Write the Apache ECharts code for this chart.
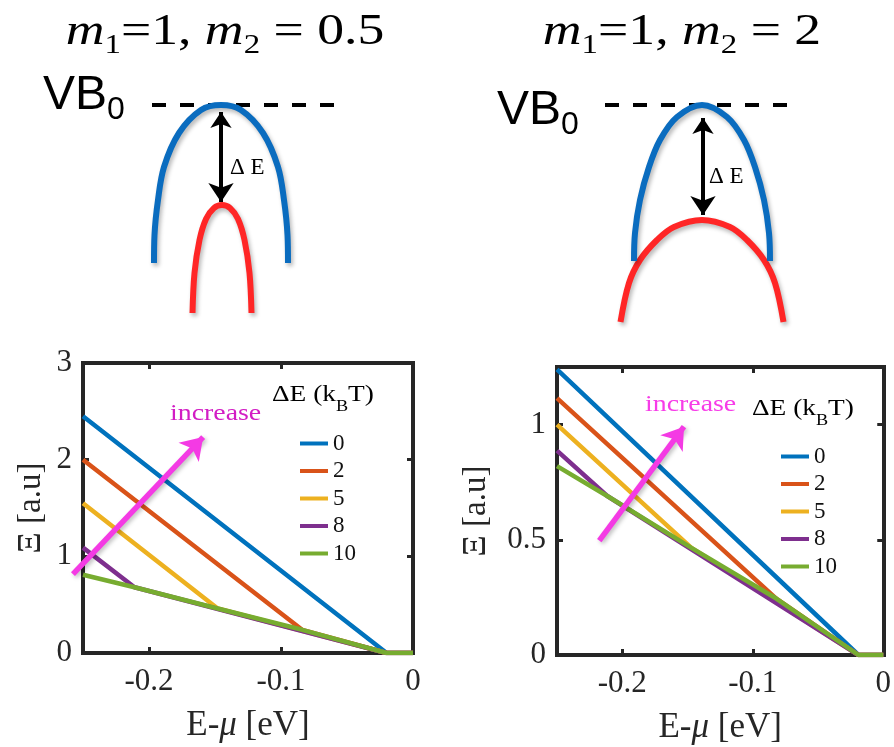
<!DOCTYPE html>
<html>
<head>
<meta charset="utf-8">
<script src="https://cdn.jsdelivr.net/npm/echarts@6/dist/echarts.min.js"></script>
<style>
  html, body { margin: 0; padding: 0; background: #fff; }
  #main { width: 894px; height: 747px; }
</style>
</head>
<body>
<div id="main"></div>
<script>
// ---------- lower panels: Ξ versus E-μ ----------
const energyTicks = [-0.2, -0.1, 0];
const xiTicksLight = [0, 1, 2, 3];
const xiTicksHeavy = [0, 0.5, 1];
const deltaE = ['0', '2', '5', '8', '10'];
const lineColors = ['#0072BD', '#D95319', '#EDB120', '#7E2F8E', '#77AC30'];

// m1 = 1, m2 = 0.5   points are [E-μ (eV), Ξ (a.u.)]
const xiLight0  = [[-0.25, 2.45], [-0.02, 0], [0, 0]];
const xiLight2  = [[-0.25, 2.00], [-0.084, 0.24], [-0.02, 0], [0, 0]];
const xiLight5  = [[-0.25, 1.55], [-0.148, 0.46], [-0.02, 0], [0, 0]];
const xiLight8  = [[-0.25, 1.09], [-0.211, 0.68], [-0.02, 0], [0, 0]];
const xiLight10 = [[-0.25, 0.81], [-0.211, 0.68], [-0.148, 0.46], [-0.084, 0.24], [-0.02, 0], [0, 0]];

// m1 = 1, m2 = 2
const xiHeavy0  = [[-0.25, 1.24], [-0.019, 0], [0, 0]];
const xiHeavy2  = [[-0.25, 1.115], [-0.082, 0.245], [-0.019, 0], [0, 0]];
const xiHeavy5  = [[-0.25, 1.00], [-0.147, 0.465], [-0.019, 0], [0, 0]];
const xiHeavy8  = [[-0.25, 0.887], [-0.2115, 0.69], [-0.019, 0], [0, 0]];
const xiHeavy10 = [[-0.25, 0.82], [-0.2115, 0.69], [-0.147, 0.465], [-0.082, 0.245], [-0.019, 0], [0, 0]];

// "increase" arrows, [E-μ, Ξ] from tail to tip
const increaseLight = [[-0.2576, 0.817], [-0.159, 2.234]];
const increaseHeavy = [[-0.2176, 0.496], [-0.1527, 0.991]];

// ---------- upper panels: band sketches, [k, E] in sketch units ----------
const vb0Light = [[-0.69, 0], [1.24, 0]];
const bandTopLight = [[-0.67, -1.58], [-0.665, -1.30], [-0.63, -0.95], [-0.57, -0.62], [-0.42, -0.28], [-0.2, -0.05], [0, 0],
  [0.2, -0.05], [0.42, -0.28], [0.57, -0.62], [0.63, -0.95], [0.665, -1.30], [0.67, -1.58]];
const bandLowLight = [[-0.285, -2.08], [-0.265, -1.68], [-0.215, -1.35], [-0.15, -1.14], [-0.07, -1.03], [0.01, -1.0],
  [0.09, -1.03], [0.17, -1.14], [0.235, -1.35], [0.285, -1.68], [0.305, -2.08]];
const gapLight = [[0, -0.07], [0, -0.97]];

const vb0Heavy = [[-0.97, 0], [0.97, 0]];
const bandTopHeavy = [[-0.68, -1.56], [-0.67, -1.28], [-0.62, -0.95], [-0.53, -0.62], [-0.42, -0.35], [-0.25, -0.12], [0, 0],
  [0.25, -0.12], [0.42, -0.35], [0.53, -0.62], [0.62, -0.95], [0.67, -1.28], [0.68, -1.56]];
const bandLowHeavy = [[-0.815, -2.17], [-0.73, -1.78], [-0.62, -1.55], [-0.45, -1.35], [-0.28, -1.22], [0, -1.15],
  [0.28, -1.22], [0.45, -1.35], [0.62, -1.55], [0.73, -1.78], [0.815, -2.17]];
const gapHeavy = [[0.01, -0.13], [0.01, -1.10]];

const SERIF = 'Liberation Serif';
const INK = '#262626';
const shadow = { shadowColor: 'rgba(0,0,0,0.28)', shadowBlur: 4, shadowOffsetX: 2, shadowOffsetY: 3 };

function sketchAxes(grid) {
  return {
    x: { type: 'value', gridIndex: grid, min: -1.25, max: 1.25, show: false },
    y: { type: 'value', gridIndex: grid, min: -2.3, max: 0.12, show: false }
  };
}

function boxAxes(grid, yMax, yTicks, yNameGap) {
  const line = { show: true, onZero: false, lineStyle: { color: INK, width: 4, cap: 'square' } };
  const tick = (vals) => ({ show: true, inside: true, length: 6, customValues: vals, lineStyle: { color: INK, width: 3 } });
  const label = { fontFamily: SERIF, fontSize: 31, color: INK };
  const nameStyle = { fontFamily: SERIF, fontSize: 35, color: INK,
    rich: { i: { fontFamily: SERIF, fontStyle: 'italic', fontSize: 35, color: INK } } };
  return {
    x: [
      { type: 'value', gridIndex: grid, min: -0.25, max: 0, position: 'bottom', axisLine: line, axisTick: tick(energyTicks),
        axisLabel: Object.assign({ customValues: energyTicks, margin: 13 }, label), splitLine: { show: false },
        name: 'E-{i|μ} [eV]', nameLocation: 'middle', nameGap: 55, nameTextStyle: nameStyle },
      { type: 'value', gridIndex: grid, min: -0.25, max: 0, position: 'top', axisLine: line, axisTick: tick(energyTicks),
        axisLabel: { show: false }, splitLine: { show: false } }
    ],
    y: [
      { type: 'value', gridIndex: grid, min: 0, max: yMax, position: 'left', axisLine: line, axisTick: tick(yTicks),
        axisLabel: Object.assign({ customValues: yTicks, margin: 11 }, label), splitLine: { show: false },
        name: 'Ξ [a.u]', nameLocation: 'middle', nameGap: yNameGap, nameRotate: 90,
        nameTextStyle: { fontFamily: SERIF, fontSize: 33, color: INK } },
      { type: 'value', gridIndex: grid, min: 0, max: yMax, position: 'right', axisLine: line, axisTick: tick(yTicks),
        axisLabel: { show: false }, splitLine: { show: false } }
    ]
  };
}

const skL = sketchAxes(0), skR = sketchAxes(1);
const bxL = boxAxes(2, 3, xiTicksLight, 35);
const bxR = boxAxes(3, 1.25, xiTicksHeavy, 64);

const xAxis = [skL.x, skR.x, bxL.x[0], bxL.x[1], bxR.x[0], bxR.x[1]];
const yAxis = [skL.y, skR.y, bxL.y[0], bxL.y[1], bxR.y[0], bxR.y[1]];

function sketchSeries(axis, vb0, top, low, gap) {
  return [
    { type: 'line', name: 'VB0', xAxisIndex: axis, yAxisIndex: axis, data: vb0, symbol: 'none', silent: true,
      lineStyle: { color: '#000', width: 4, type: [14, 14] } },
    { type: 'line', name: 'band 2', xAxisIndex: axis, yAxisIndex: axis, data: low, symbol: 'none', smooth: 0.35, silent: true,
      lineStyle: Object.assign({ color: '#ff2626', width: 6 }, shadow) },
    { type: 'line', name: 'band 1', xAxisIndex: axis, yAxisIndex: axis, data: top, symbol: 'none', smooth: 0.35, silent: true,
      lineStyle: Object.assign({ color: '#0a6cbf', width: 6 }, shadow) },
    { type: 'lines', coordinateSystem: 'cartesian2d', xAxisIndex: axis, yAxisIndex: axis, silent: true, clip: false,
      symbol: ['arrow', 'arrow'], symbolSize: [16, 19],
      lineStyle: { color: '#000', width: 4, opacity: 1 }, data: [{ coords: gap }] }
  ];
}

function xiSeries(axisX, axisY, sets, arrow) {
  const list = sets.map((d, i) => ({
    type: 'line', name: deltaE[i], xAxisIndex: axisX, yAxisIndex: axisY, data: d, symbol: 'none',
    lineStyle: { color: lineColors[i], width: 4.5 }, itemStyle: { color: lineColors[i] }
  }));
  list.push({
    type: 'lines', coordinateSystem: 'cartesian2d', xAxisIndex: axisX, yAxisIndex: axisY, silent: true, clip: false, z: 5,
    symbol: ['none', 'arrow'], symbolSize: [18, 21],
    lineStyle: { color: '#f43ae4', width: 5.5, opacity: 1, shadowColor: 'rgba(0,0,0,0.25)', shadowBlur: 4, shadowOffsetX: 2, shadowOffsetY: 2 },
    data: [{ coords: arrow }]
  });
  return list;
}

const series = [].concat(
  sketchSeries(0, vb0Light, bandTopLight, bandLowLight, gapLight),
  sketchSeries(1, vb0Heavy, bandTopHeavy, bandLowHeavy, gapHeavy),
  xiSeries(2, 2, [xiLight0, xiLight2, xiLight5, xiLight8, xiLight10], increaseLight),
  xiSeries(4, 4, [xiHeavy0, xiHeavy2, xiHeavy5, xiHeavy8, xiHeavy10], increaseHeavy)
);

function legendAt(left, top) {
  return {
    data: deltaE, orient: 'vertical', left: left, top: top, padding: 0, icon: 'rect',
    itemWidth: 28, itemHeight: 4, itemGap: 4.5, selectedMode: false,
    textStyle: { fontFamily: SERIF, fontSize: 23, lineHeight: 22, color: '#111' }
  };
}

const titleRich = {
  m: { fontFamily: SERIF, fontStyle: 'italic', fontSize: 44, lineHeight: 55, verticalAlign: 'middle', fill: '#000' },
  n: { fontFamily: SERIF, fontSize: 44, lineHeight: 55, verticalAlign: 'middle', fill: '#000' },
  s: { fontFamily: SERIF, fontSize: 27, lineHeight: 25, verticalAlign: 'bottom', fill: '#000' }
};
const vbRich = {
  b: { fontFamily: 'Liberation Sans', fontSize: 48, lineHeight: 60, verticalAlign: 'middle', fill: '#000' },
  s: { fontFamily: 'Liberation Sans', fontSize: 32, lineHeight: 32, verticalAlign: 'bottom', fill: '#000' }
};
const keyRich = {
  t: { fontFamily: SERIF, fontSize: 24, lineHeight: 39, verticalAlign: 'middle', fill: '#000' },
  s: { fontFamily: SERIF, fontSize: 16, lineHeight: 16, verticalAlign: 'bottom', fill: '#000' }
};

function label(x, y, text, rich, extra) {
  return Object.assign({ type: 'text', x: x, y: y, silent: true,
    style: { text: text, rich: rich, align: 'left', verticalAlign: 'middle' } }, extra || {});
}

const graphic = [
  { type: 'text', x: 225, y: 32, scaleX: 1.22, silent: true,
    style: { text: '{m|m}{s|1}{n|=1, }{m|m}{s|2}{n| = 0.5}', rich: titleRich, align: 'center', verticalAlign: 'middle' } },
  { type: 'text', x: 682, y: 32, scaleX: 1.22, silent: true,
    style: { text: '{m|m}{s|1}{n|=1, }{m|m}{s|2}{n| = 2}', rich: titleRich, align: 'center', verticalAlign: 'middle' } },
  label(43, 96, '{b|VB}{s|0}', vbRich),
  label(497, 111, '{b|VB}{s|0}', vbRich),
  { type: 'text', x: 230, y: 168, silent: true,
    style: { text: 'Δ E', fontFamily: SERIF, fontSize: 23, fill: '#000', align: 'left', verticalAlign: 'middle' } },
  { type: 'text', x: 709, y: 177, silent: true,
    style: { text: 'Δ E', fontFamily: SERIF, fontSize: 23, fill: '#000', align: 'left', verticalAlign: 'middle' } },
  label(272, 395, '{t|ΔE (k}{s|B}{t|T)}', keyRich, { scaleX: 1.14 }),
  label(752, 409, '{t|ΔE (k}{s|B}{t|T)}', keyRich, { scaleX: 1.14 }),
  { type: 'text', x: 170, y: 414, scaleX: 1.16, silent: true,
    style: { text: 'increase', fontFamily: SERIF, fontSize: 24, fill: '#d21cc4', align: 'left', verticalAlign: 'middle' } },
  { type: 'text', x: 645, y: 405, scaleX: 1.16, silent: true,
    style: { text: 'increase', fontFamily: SERIF, fontSize: 24, fill: '#f73ce8', align: 'left', verticalAlign: 'middle' } }
];

const chart = echarts.init(document.getElementById('main'), null, { renderer: 'canvas' });
chart.setOption({
  animation: false,
  backgroundColor: '#fff',
  grid: [
    { left: 96, top: 93, width: 250, height: 242 },
    { left: 577, top: 93, width: 250, height: 242 },
    { left: 83, top: 363, width: 330, height: 290 },
    { left: 557, top: 367, width: 327, height: 288 }
  ],
  xAxis: xAxis,
  yAxis: yAxis,
  legend: [legendAt(300, 432), legendAt(781, 445)],
  series: series,
  graphic: graphic
});
</script>
</body>
</html>
